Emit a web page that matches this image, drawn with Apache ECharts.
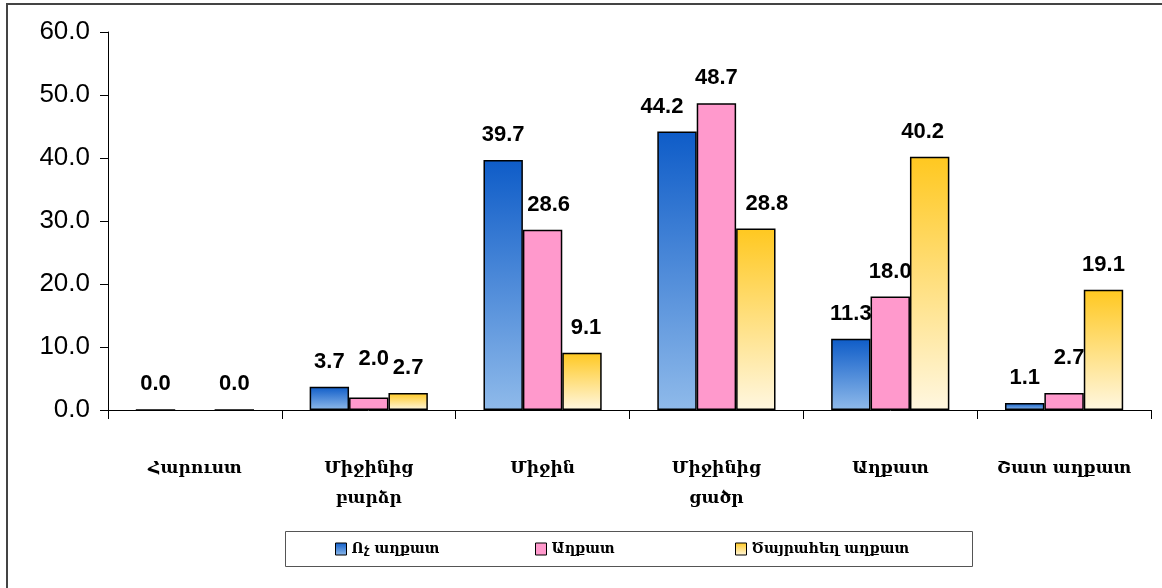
<!DOCTYPE html>
<html lang="hy">
<head>
    <meta charset="UTF-8">
    <title>Chart</title>
    <script src="https://cdn.jsdelivr.net/npm/echarts@6/dist/echarts.min.js"></script>
    <style>
        html, body { margin: 0; padding: 0; background: #fff; }
    </style>
</head>
<body>
<div id="box" style="width: 1162px;height:588px;"></div>
<script>
    // data
    var categories = ['Հարուստ', 'Միջինից\nբարձր', 'Միջին', 'Միջինից\nցածր', 'Աղքատ', 'Շատ աղքատ'];
    var seriesNames = ['Ոչ աղքատ', 'Աղքատ', 'Ծայրահեղ աղքատ'];
    var nonPoor = [0.0, 3.7, 39.7, 44.2, 11.3, 1.1];
    var poor = ['-', 2.0, 28.6, 48.7, 18.0, 2.7];
    var extreme = [0.0, 2.7, 9.1, 28.8, 40.2, 19.1];
    var yTicks = [0, 10, 20, 30, 40, 50, 60];

    // hand placed labels in the original, [series, category] -> [dx, dy]
    var labelShift = {
        '0-3': [-15, 0],
        '1-1': [5, -13],
        '1-2': [6, 0],
        '1-5': [5, -10],
        '2-2': [4, 0],
        '2-3': [11, 0],
        '2-4': [-7, 0]
    };

    var myChart = echarts.init(document.getElementById('box'));

    function grad(top, bottom) {
        return new echarts.graphic.LinearGradient(0, 0, 0, 1, [
            {offset: 0, color: top},
            {offset: 1, color: bottom}
        ]);
    }

    var fills = [
        grad('#0e5cc8', '#8fbaea'),
        '#ff99cc',
        grad('#ffc820', '#fff7e0')
    ];

    function buildSeries(idx, values) {
        return {
            name: seriesNames[idx],
            type: 'bar',
            barGap: '0%',
            barCategoryGap: '32%',
            itemStyle: {
                color: fills[idx],
                borderColor: '#000',
                borderWidth: 1.5
            },
            label: {
                show: true,
                position: 'top',
                distance: 14,
                color: '#000',
                fontFamily: 'Liberation Sans, Arial, sans-serif',
                fontWeight: 'bold',
                fontSize: 22,
                formatter: function (p) {
                    return Number(p.value).toFixed(1);
                }
            },
            data: values.map(function (v, i) {
                var s = labelShift[idx + '-' + i];
                if (s && v !== '-') {
                    return {value: v, label: {offset: s}};
                }
                return v;
            })
        };
    }

    // one legend per series so the items sit 200px apart like the original
    var legendLeft = [335, 535, 735];
    var legends = seriesNames.map(function (n, i) {
        return {
            data: [{name: n, itemStyle: {borderColor: '#000', borderWidth: 1}}],
            left: legendLeft[i],
            top: 542,
            padding: 0,
            itemWidth: 11,
            itemHeight: 12,
            icon: 'rect',
            textStyle: {
                fontFamily: 'DejaVu Serif, DejaVu Sans, serif',
                fontWeight: 'bold',
                fontSize: 14,
                color: '#000'
            }
        };
    });

    var option = {
        animation: false,
        color: ['#4a86d8', '#ff99cc', '#ffe28a'],
        graphic: [{
            type: 'rect',
            shape: {x: 7, y: 4, width: 1170, height: 600},
            style: {fill: 'none', stroke: '#444', lineWidth: 2},
            silent: true,
            z: -1
        }, {
            type: 'rect',
            shape: {x: 285.5, y: 531.5, width: 687, height: 35},
            style: {fill: 'none', stroke: '#555', lineWidth: 1},
            silent: true,
            z: -1
        }],
        legend: legends,
        grid: {
            left: 108,
            right: 11,
            top: 32,
            bottom: 178
        },
        xAxis: {
            type: 'category',
            data: categories,
            axisLine: {lineStyle: {color: '#000', width: 1}},
            axisTick: {show: true, length: 9, lineStyle: {color: '#000'}},
            axisLabel: {
                margin: 44,
                lineHeight: 30,
                color: '#000',
                fontFamily: 'DejaVu Serif, DejaVu Sans, serif',
                fontWeight: 'bold',
                fontSize: 17,
                interval: 0
            }
        },
        yAxis: {
            type: 'value',
            min: yTicks[0],
            max: yTicks[yTicks.length - 1],
            interval: yTicks[1] - yTicks[0],
            splitLine: {show: false},
            axisLine: {show: true, lineStyle: {color: '#000', width: 1}},
            axisTick: {show: true, length: 8, lineStyle: {color: '#000'}},
            axisLabel: {
                margin: 18,
                color: '#000',
                fontFamily: 'Liberation Sans, Arial, sans-serif',
                fontSize: 26,
                formatter: function (v) {
                    return v.toFixed(1);
                }
            }
        },
        series: [
            buildSeries(0, nonPoor),
            buildSeries(1, poor),
            buildSeries(2, extreme)
        ]
    };
    myChart.setOption(option);
</script>
</body>
</html>
